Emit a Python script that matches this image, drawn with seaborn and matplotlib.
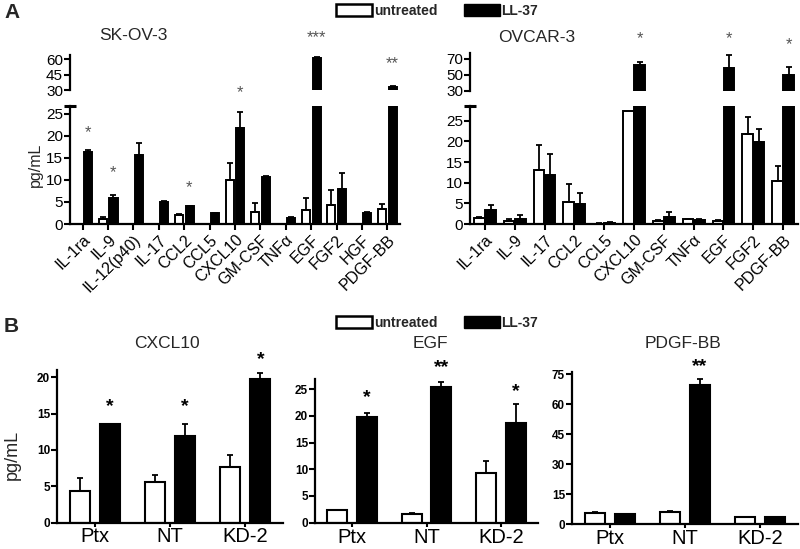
import numpy as np
import pandas as pd
import matplotlib
matplotlib.use("Agg")
import matplotlib.pyplot as plt
from matplotlib.patches import Patch
import seaborn as sns

# ---------------- data ----------------
sk_cats = ['IL-1ra', 'IL-9', 'IL-12(p40)', 'IL-17', 'CCL2', 'CCL5', 'CXCL10',
           'GM-CSF', 'TNFα', 'EGF', 'FGF2', 'HGF', 'PDGF-BB']
sk_untr = [0, 1.2, 0, 0, 2.0, 0, 10.0, 2.8, 0, 3.1, 4.4, 0, 3.5]
sk_untr_err = [0, 0.3, 0, 0, 0.3, 0, 3.8, 1.9, 0, 2.7, 3.4, 0, 1.0]
sk_ll = [16.3, 6.0, 15.6, 5.0, 4.1, 2.5, 21.7, 10.6, 1.4, 61.0, 8.0, 2.6, 33.0]
sk_ll_err = [0.5, 0.6, 2.7, 0.2, 0.1, 0.1, 3.8, 0.2, 0.1, 1.5, 3.6, 0.2, 0.8]
sk_stars = {'IL-1ra': ('*', 20.7, 'low'), 'IL-9': ('*', 11.6, 'low'),
            'CCL2': ('*', 8.2, 'low'), 'CXCL10': ('*', 29.8, 'low'),
            'EGF': ('***', 80.5, 'up'), 'PDGF-BB': ('**', 56.0, 'up')}

ov_cats = ['IL-1ra', 'IL-9', 'IL-17', 'CCL2', 'CCL5', 'CXCL10', 'GM-CSF',
           'TNFα', 'EGF', 'FGF2', 'PDGF-BB']
ov_untr = [1.4, 0.8, 13.2, 5.3, 0.1, 27.5, 0.8, 1.1, 0.7, 21.8, 10.4]
ov_untr_err = [0.3, 0.4, 5.9, 4.5, 0.05, 0, 0.2, 0.2, 0.2, 4.2, 3.6]
ov_ll = [3.3, 1.2, 11.8, 4.9, 0.3, 62.0, 1.7, 0.9, 59.0, 19.9, 50.0]
ov_ll_err = [1.2, 1.1, 5.1, 2.7, 0.1, 4.0, 1.3, 0.2, 16.0, 3.1, 10.0]
ov_stars = {'CXCL10': ('*', 95.0, 'up'), 'EGF': ('*', 96.0, 'up'),
            'PDGF-BB': ('*', 87.5, 'up')}

groups = ['Ptx', 'NT', 'KD-2']
cxcl_untr = [4.4, 5.6, 7.7]
cxcl_untr_err = [1.7, 0.9, 1.6]
cxcl_ll = [13.6, 11.9, 19.7]
cxcl_ll_err = [0.0, 1.7, 0.9]
cxcl_stars = ['*', '*', '*']
cxcl_star_y = [15.9, 15.9, 22.4]

egf_untr = [2.3, 1.7, 9.3]
egf_untr_err = [0.0, 0.1, 2.3]
egf_ll = [19.7, 25.4, 18.6]
egf_ll_err = [0.9, 0.9, 3.6]
egf_stars = ['*', '**', '*']
egf_star_y = [23.4, 29.0, 24.5]

pdgf_untr = [5.5, 6.2, 3.5]
pdgf_untr_err = [0.5, 0.6, 0.2]
pdgf_ll = [5.0, 69.5, 3.5]
pdgf_ll_err = [0.3, 3.4, 0.2]
pdgf_stars = ['', '**', '']
pdgf_star_y = [0, 78.8, 0]

hue_levels = ['untreated', 'LL-37']
palette = {'untreated': 'white', 'LL-37': 'black'}

# ---------------- style ----------------
sns.set_style('ticks')
plt.rcParams['font.family'] = ['Liberation Sans', 'DejaVu Sans']
plt.rcParams['axes.linewidth'] = 1.6
plt.rcParams['xtick.major.width'] = 1.5
plt.rcParams['ytick.major.width'] = 1.5
plt.rcParams['xtick.major.size'] = 4
plt.rcParams['ytick.major.size'] = 4
plt.rcParams['xtick.color'] = 'black'
plt.rcParams['ytick.color'] = 'black'
plt.rcParams['axes.edgecolor'] = 'black'

W, H = 800, 549
fig = plt.figure(figsize=(8.0, 5.49), dpi=100)


def rect(l, r, t, b):
    return [l / W, 1 - b / H, (r - l) / W, (b - t) / H]


def make_df(cats, untr, ll):
    return pd.DataFrame({
        'cat': list(cats) * 2,
        'value': list(untr) + list(ll),
        'treat': ['untreated'] * len(cats) + ['LL-37'] * len(cats),
    })


def draw_bars(ax, cats, untr, untr_err, ll, ll_err, width, gap, lw):
    df = make_df(cats, untr, ll)
    sns.barplot(data=df, x='cat', y='value', hue='treat', order=cats,
                hue_order=hue_levels, palette=palette, edgecolor='black',
                linewidth=lw, errorbar=None, width=width, gap=gap,
                legend=False, ax=ax)
    errs = [untr_err, ll_err]
    for cont, err in zip(ax.containers, errs):
        xs = [b.get_x() + b.get_width() / 2 for b in cont]
        hs = [b.get_height() for b in cont]
        for x, h, e in zip(xs, hs, err):
            if e > 0 and h > 0:
                ax.errorbar([x], [h], yerr=[[0], [e]], fmt='none', ecolor='black',
                            elinewidth=1.3, capsize=2.5, capthick=1.3, zorder=1)
    ax.set_xlabel('')
    ax.set_ylabel('')
    ax.patch.set_visible(False)


def broken_panel(l, r, up_t, up_b, lo_t, lo_b, cats, untr, untr_err, ll, ll_err,
                 lo_lim, up_lim, lo_ticks, up_ticks, stars, width, gap, title, title_xy):
    ax_lo = fig.add_axes(rect(l, r, lo_t, lo_b))
    ax_up = fig.add_axes(rect(l, r, up_t, up_b))
    for ax in (ax_lo, ax_up):
        draw_bars(ax, cats, untr, untr_err, ll, ll_err, width, gap, 1.4)
        ax.set_xlim(-0.5, len(cats) - 0.5)
        for s in ('top', 'right'):
            ax.spines[s].set_visible(False)
        ax.tick_params(axis='y', labelsize=11, pad=1)
    ax_lo.set_ylim(*lo_lim)
    ax_lo.set_yticks(lo_ticks)
    ax_up.set_ylim(*up_lim)
    ax_up.set_yticks(up_ticks)
    ax_up.spines['bottom'].set_visible(False)
    ax_up.tick_params(axis='x', bottom=False, labelbottom=False)
    ax_lo.set_xticks(range(len(cats)))
    ax_lo.set_xticklabels(cats, rotation=45, ha='right', rotation_mode='anchor',
                          fontsize=11.5)
    ax_lo.tick_params(axis='x', pad=2)
    # cap at top of lower axis (break marker)
    ax_lo.plot([0], [1], marker='_', ms=9, mew=2.2, color='black',
               transform=ax_lo.transAxes, clip_on=False)
    for c, (txt, y, which) in stars.items():
        i = cats.index(c)
        a = ax_lo if which == 'low' else ax_up
        a.text(i + 0.2, y, txt, ha='center', va='center', fontsize=12,
               color='#555555', zorder=10)
    fig.text(title_xy[0] / W, 1 - title_xy[1] / H, title, ha='center',
             va='center', fontsize=12.5)
    return ax_lo, ax_up


broken_panel(70, 400, 55, 90, 106, 224, sk_cats, sk_untr, sk_untr_err, sk_ll,
             sk_ll_err, (0, 26.8), (30, 64), [0, 5, 10, 15, 20, 25],
             [30, 45, 60], sk_stars, 0.85, 0.25, 'SK-OV-3', (133, 35))
broken_panel(470, 798, 53, 91, 106, 224, ov_cats, ov_untr, ov_untr_err, ov_ll,
             ov_ll_err, (0, 28.6), (30, 77.5), [0, 5, 10, 15, 20, 25],
             [30, 50, 70], ov_stars, 0.75, 0.05, 'OVCAR-3', (537, 37))

fig.text(35 / W, 1 - 165 / H, 'pg/mL', rotation=90, ha='center', va='center',
         fontsize=11.5)


def simple_panel(l, r, t, b, untr, untr_err, ll, ll_err, ylim, yticks,
                 stars, star_y, title, title_x):
    ax = fig.add_axes(rect(l, r, t, b))
    draw_bars(ax, groups, untr, untr_err, ll, ll_err, 0.8, 0.33, 1.5)
    ax.set_xlim(-0.5, 2.5)
    ax.set_ylim(*ylim)
    ax.set_yticks(yticks)
    for s in ('top', 'right'):
        ax.spines[s].set_visible(False)
    ax.tick_params(axis='y', labelsize=8.5, pad=1)
    for lab in ax.get_yticklabels():
        lab.set_fontweight('bold')
    ax.set_xticks(range(3))
    ax.set_xticklabels(groups, fontsize=14.5)
    ax.tick_params(axis='x', length=3, pad=0.5)
    for i, (s, y) in enumerate(zip(stars, star_y)):
        if s:
            ax.text(i + 0.2, y, s, ha='center', va='center', fontsize=14,
                    fontweight='bold', color='black')
    fig.text(title_x / W, 1 - 343 / H, title, ha='center', va='center',
             fontsize=12.5)
    return ax


simple_panel(57, 283, 370, 522.5, cxcl_untr, cxcl_untr_err, cxcl_ll, cxcl_ll_err,
             (0, 21), [0, 5, 10, 15, 20], cxcl_stars, cxcl_star_y, 'CXCL10', 167)
simple_panel(315, 538, 379, 522.7, egf_untr, egf_untr_err, egf_ll, egf_ll_err,
             (0, 26.9), [0, 5, 10, 15, 20, 25], egf_stars, egf_star_y, 'EGF', 430)
simple_panel(572, 798, 372, 524.3, pdgf_untr, pdgf_untr_err, pdgf_ll, pdgf_ll_err,
             (0, 76.2), [0, 15, 30, 45, 60, 75], pdgf_stars, pdgf_star_y,
             'PDGF-BB', 683)

fig.text(12 / W, 1 - 455 / H, 'pg/mL', rotation=90, ha='center', va='center',
         fontsize=13)

# panel letters
fig.text(4 / W, 1 - 12 / H, 'A', fontsize=15, fontweight='bold', va='center')
fig.text(4 / W, 1 - 327 / H, 'B', fontsize=15, fontweight='bold', va='center')

# legends
handles = [Patch(facecolor='white', edgecolor='black', linewidth=1.8),
           Patch(facecolor='black', edgecolor='black')]
for yc in (11, 323):
    fig.legend(handles, hue_levels, loc='center', ncol=2, frameon=False,
               bbox_to_anchor=(437 / W, 1 - yc / H), handlelength=2.6,
               handleheight=0.9, handletextpad=0.1, columnspacing=1.9,
               prop={'size': 10, 'weight': 'bold'})

fig.savefig('out.png', dpi=100)
